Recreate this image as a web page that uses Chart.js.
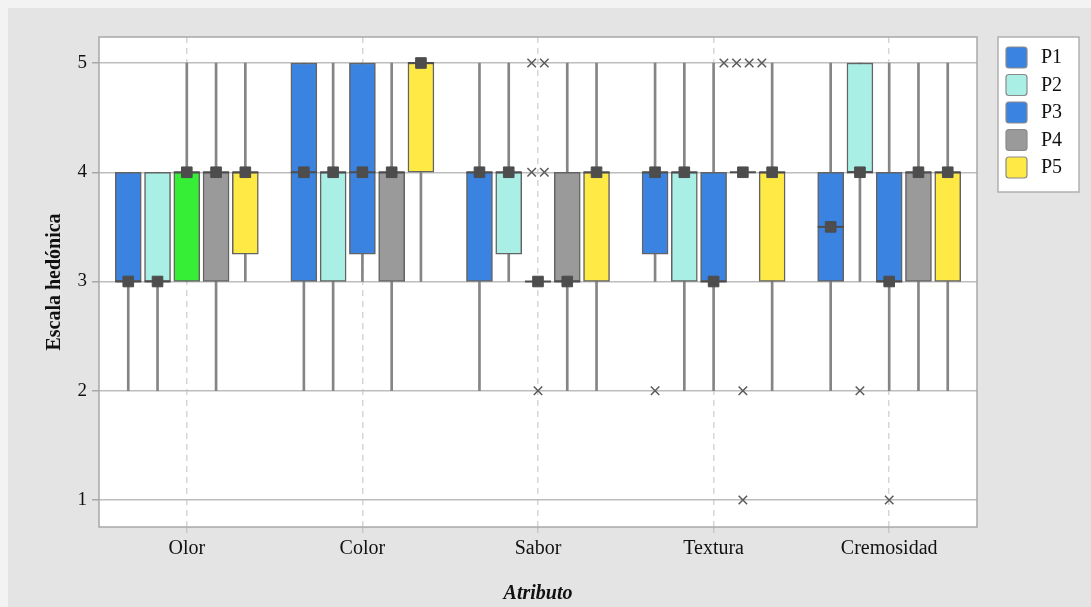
<!DOCTYPE html>
<html><head><meta charset="utf-8">
<script src="https://cdn.jsdelivr.net/npm/chart.js@4.4.1/dist/chart.umd.min.js"></script>
<style>
html,body{margin:0;padding:0;background:#f3f3f3;width:1091px;height:607px;overflow:hidden}
#wrap{position:absolute;left:8px;top:8px;width:1083px;height:599px;background:#e4e4e4}
canvas{display:block}
</style></head><body>
<div id="wrap"><canvas id="c" width="1083" height="599"></canvas></div>
<script>
// ---- data ----
const categories = ['Olor', 'Color', 'Sabor', 'Textura', 'Cremosidad'];
const seriesNames = ['P1', 'P2', 'P3', 'P4', 'P5'];
const yTickValues = [1, 2, 3, 4, 5];

// P1
const p1Q1 = [3, 3, 3, 3.25, 3];
const p1Q3 = [4, 5, 4, 4, 4];
const p1Median = [3, 4, 4, 4, 3.5];
const p1WhiskerLow = [2, 2, 2, 3, 2];
const p1WhiskerHigh = [4, 5, 5, 5, 5];
const p1Outliers = [[], [], [], [2], []];
// P2
const p2Q1 = [3, 3, 3.25, 3, 4];
const p2Q3 = [4, 4, 4, 4, 5];
const p2Median = [3, 4, 4, 4, 4];
const p2WhiskerLow = [2, 2, 3, 2, 3];
const p2WhiskerHigh = [4, 5, 5, 5, 5];
const p2Outliers = [[], [], [], [], [2]];
// P3
const p3Q1 = [3, 3.25, 3, 3, 3];
const p3Q3 = [4, 5, 3, 4, 4];
const p3Median = [4, 4, 3, 3, 3];
const p3WhiskerLow = [3, 3, 3, 2, 2];
const p3WhiskerHigh = [5, 5, 3, 5, 5];
const p3Outliers = [[], [], [5, 5, 4, 4, 2], [], [1]];
// P4
const p4Q1 = [3, 3, 3, 4, 3];
const p4Q3 = [4, 4, 4, 4, 4];
const p4Median = [4, 4, 3, 4, 4];
const p4WhiskerLow = [2, 2, 2, 4, 2];
const p4WhiskerHigh = [5, 5, 5, 4, 5];
const p4Outliers = [[], [], [], [5, 5, 5, 5, 2, 1], []];
// P5
const p5Q1 = [3.25, 4, 3, 3, 3];
const p5Q3 = [4, 5, 4, 4, 4];
const p5Median = [4, 5, 4, 4, 4];
const p5WhiskerLow = [3, 3, 2, 2, 2];
const p5WhiskerHigh = [5, 5, 5, 5, 5];
const p5Outliers = [[], [], [], [], []];

// ---- styles ----
const seriesColors = ['#3a83e0', '#a9efe5', '#3a83e0', '#9a9a9a', '#ffe945'];
const highlightColor = '#35ee35';       // P3 box at "Olor"
const highlightCategory = 'Olor';
const boxBorder = '#636363';
const whiskerColor = '#858585';
const markColor = '#4d4d4d';
const FONT = "'Liberation Serif', 'Times New Roman', serif";

const seriesTable = [
  { q1: p1Q1, q3: p1Q3, med: p1Median, lo: p1WhiskerLow, hi: p1WhiskerHigh, out: p1Outliers },
  { q1: p2Q1, q3: p2Q3, med: p2Median, lo: p2WhiskerLow, hi: p2WhiskerHigh, out: p2Outliers },
  { q1: p3Q1, q3: p3Q3, med: p3Median, lo: p3WhiskerLow, hi: p3WhiskerHigh, out: p3Outliers },
  { q1: p4Q1, q3: p4Q3, med: p4Median, lo: p4WhiskerLow, hi: p4WhiskerHigh, out: p4Outliers },
  { q1: p5Q1, q3: p5Q3, med: p5Median, lo: p5WhiskerLow, hi: p5WhiskerHigh, out: p5Outliers }
];

// category slot geometry (in category units) for dodged series
const nSeries = seriesNames.length;
const slot = 1 / (nSeries + 1);
const dupSpread = 0.072;
const xOf = (c, s) => (c + 1) + (s - (nSeries - 1) / 2) * slot;

const datasets = [];
const medianPts = [];
const outlierPts = [];
seriesTable.forEach((t, s) => {
  datasets.push({
    type: 'bar', label: seriesNames[s] + ' bigote', isWhisker: true,
    data: categories.map((_, c) => ({ x: xOf(c, s), y: [t.lo[c], t.hi[c]] })),
    backgroundColor: whiskerColor, borderWidth: 0,
    barThickness: 2, grouped: false, order: 3
  });
  datasets.push({
    type: 'bar', label: seriesNames[s], isBox: true, seriesColor: seriesColors[s],
    data: categories.map((_, c) => ({ x: xOf(c, s), y: [t.q1[c], t.q3[c]] })),
    backgroundColor: categories.map(cat => (s === 2 && cat === highlightCategory) ? highlightColor : seriesColors[s]),
    borderColor: boxBorder, borderWidth: 1.5, borderSkipped: false,
    barThickness: 26, grouped: false, order: 2
  });
  categories.forEach((_, c) => {
    medianPts.push({ x: xOf(c, s), y: t.med[c] });
    const counts = {};
    t.out[c].forEach(v => { counts[v] = (counts[v] || 0) + 1; });
    Object.keys(counts).forEach(k => {
      const n = counts[k];
      for (let i = 0; i < n; i++) {
        outlierPts.push({ x: xOf(c, s) + (i - (n - 1) / 2) * dupSpread, y: Number(k) });
      }
    });
  });
});
datasets.push({
  type: 'scatter', label: 'Mediana (línea)', data: medianPts,
  pointStyle: 'line', pointRadius: 13, pointHoverRadius: 13,
  borderColor: markColor, pointBorderWidth: 2, order: 1
});
datasets.push({
  type: 'scatter', label: 'Mediana', data: medianPts,
  pointStyle: 'rect', pointRadius: 7.5, pointHoverRadius: 7.5,
  backgroundColor: markColor, borderColor: markColor, pointBorderWidth: 1, order: 0
});
datasets.push({
  type: 'scatter', label: 'Atípicos', data: outlierPts,
  pointStyle: 'crossRot', pointRadius: 6, pointHoverRadius: 6,
  borderColor: '#5a5a5a', pointBorderWidth: 1.5, order: 0
});

// ---- plugins ----
const plotFrame = {
  id: 'plotFrame',
  beforeDraw(chart) {
    const { ctx, chartArea: a } = chart;
    ctx.save();
    ctx.fillStyle = '#ffffff';
    ctx.fillRect(a.left, a.top, a.right - a.left, a.bottom - a.top);
    ctx.restore();
  },
  afterDraw(chart) {
    const { ctx, chartArea: a } = chart;
    ctx.save();
    ctx.strokeStyle = '#a8a8a8';
    ctx.lineWidth = 1.5;
    ctx.strokeRect(a.left, a.top, a.right - a.left, a.bottom - a.top);
    ctx.restore();
  }
};

const boxLegend = {
  id: 'boxLegend',
  afterDraw(chart) {
    const { ctx, chartArea: a } = chart;
    const items = chart.data.datasets.filter(d => d.isBox);
    const left = a.right + 21, top = a.top;
    const w = 81, rowH = 27.5, h = 155;
    ctx.save();
    ctx.fillStyle = '#ffffff';
    ctx.fillRect(left, top, w, h);
    ctx.strokeStyle = '#b0b0b0';
    ctx.lineWidth = 1.5;
    ctx.strokeRect(left, top, w, h);
    ctx.font = '20px ' + FONT;
    ctx.textBaseline = 'middle';
    ctx.textAlign = 'left';
    items.forEach((d, i) => {
      const sy = top + 10 + i * rowH;
      ctx.beginPath();
      if (ctx.roundRect) ctx.roundRect(left + 8, sy, 21, 21, 3); else ctx.rect(left + 8, sy, 21, 21);
      ctx.fillStyle = d.seriesColor;
      ctx.fill();
      ctx.strokeStyle = '#8a8a8a';
      ctx.lineWidth = 1.2;
      ctx.stroke();
      ctx.fillStyle = '#111';
      ctx.fillText(d.label, left + 43, sy + 11);
    });
    ctx.restore();
  }
};

new Chart(document.getElementById('c'), {
  type: 'bar',
  data: { datasets },
  plugins: [plotFrame, boxLegend],
  options: {
    responsive: false,
    animation: false,
    events: [],
    layout: { padding: { top: 29, right: 114, left: 0, bottom: 0 } },
    plugins: { legend: { display: false }, tooltip: { enabled: false } },
    scales: {
      x: {
        type: 'linear', min: 0.5, max: 5.5, offset: false,
        afterBuildTicks: s => { s.ticks = categories.map((_, i) => ({ value: i + 1 })); },
        afterFit: s => { s.height = 80; },
        ticks: {
          autoSkip: false, maxRotation: 0, padding: 3, color: '#111',
          font: { family: FONT, size: 20 },
          callback: v => categories[v - 1]
        },
        grid: { offset: false, color: '#d6d6d6', lineWidth: 1.5, tickLength: 7, tickColor: '#c8c8c8', tickBorderDash: [6, 5] },
        border: { display: false, dash: [6, 5] },
        title: {
          display: true, text: 'Atributo', color: '#111',
          font: { family: FONT, size: 20, weight: 'bold', style: 'italic' },
          padding: { top: 0, bottom: 1 }
        }
      },
      y: {
        type: 'linear', min: 0.753, max: 5.238, stacked: false,
        afterBuildTicks: s => { s.ticks = yTickValues.map(v => ({ value: v })); },
        afterFit: s => { s.width = 91; },
        ticks: { padding: 5, color: '#111', font: { family: FONT, size: 19 } },
        grid: { color: '#bdbdbd', lineWidth: 1.5, tickLength: 7, tickColor: '#a8a8a8' },
        border: { display: false },
        title: {
          display: true, text: 'Escala hedónica', color: '#111',
          font: { family: FONT, size: 20, weight: 'bold' },
          padding: { top: 35, bottom: 0 }
        }
      }
    }
  }
});
</script>
</body></html>
